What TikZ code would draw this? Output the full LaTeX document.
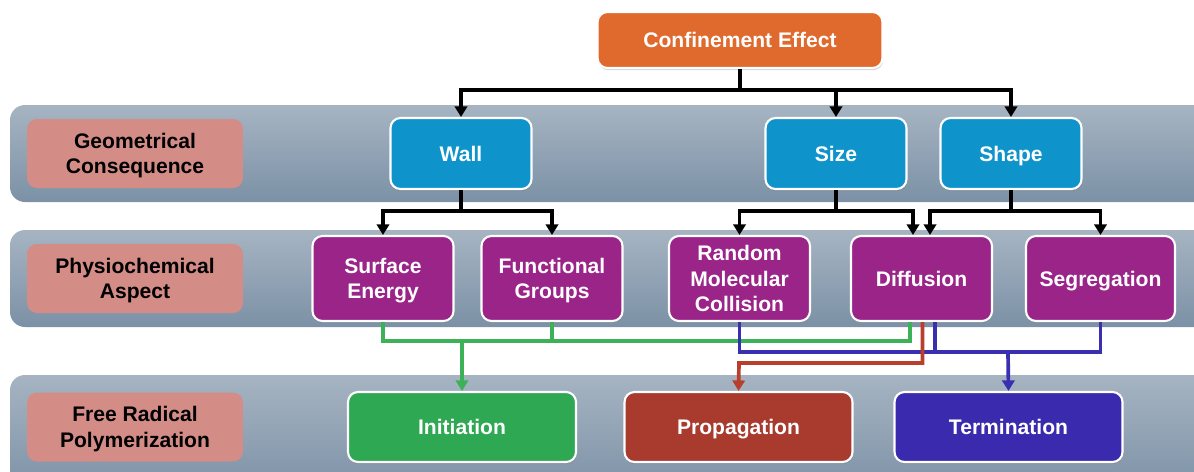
\documentclass[tikz,border=0pt]{standalone}
\usepackage{fontspec}
\setmainfont{Liberation Sans}
\usetikzlibrary{arrows.meta,shadows}

\definecolor{bandtop}{RGB}{166,180,194}
\definecolor{bandbot}{RGB}{124,145,166}
\definecolor{labelpink}{RGB}{212,140,135}
\definecolor{conforange}{RGB}{224,106,46}
\definecolor{geoblue}{RGB}{14,148,203}
\definecolor{physpurple}{RGB}{154,36,136}
\definecolor{initgreen}{RGB}{46,168,82}
\definecolor{propred}{RGB}{168,58,46}
\definecolor{termblue}{RGB}{58,42,174}
\definecolor{greenline}{RGB}{61,177,87}
\definecolor{redline}{RGB}{185,62,46}
\definecolor{blueline}{RGB}{58,47,176}

\tikzset{
  band/.style={rounded corners=0.3cm, top color=bandtop, bottom color=bandbot, draw=none},
  rowlabel/.style={fill=labelpink, rounded corners=0.2cm, minimum width=4.32cm,
    minimum height=1.38cm, align=center, text depth=0pt,
    font=\fontsize{12}{14.4}\selectfont\bfseries},
  box/.style={draw=white, line width=1.2pt, rounded corners=0.2cm, text=white, align=center,
    text depth=0pt, font=\fontsize{12}{14.4}\selectfont\bfseries,
    drop shadow={opacity=0.35, shadow xshift=0.4pt, shadow yshift=-1.2pt}},
  confbox/.style={box, fill=conforange, minimum width=5.7cm, minimum height=1.12cm},
  geobox/.style={box, fill=geoblue, minimum width=2.82cm, minimum height=1.42cm},
  physbox/.style={box, fill=physpurple, minimum width=2.82cm, minimum height=1.7cm},
  frpbox/.style={box, minimum width=4.56cm, minimum height=1.4cm},
  tree/.style={line width=2.1pt, black},
  feed/.style={line width=2.1pt}
}

\begin{document}
\begin{tikzpicture}[x=0.02cm, y=-0.02cm, >={Triangle[length=6pt,width=7pt]}]

  \useasboundingbox (0,0) rectangle (1194,471);

  % bands
  \begin{scope}
    \clip (0,0) rectangle (1194,471);
    \path[band] (10,105) rectangle (1215,202);
    \path[band] (10,230) rectangle (1215,327);
    \path[band] (10,375) rectangle (1215,495);
  \end{scope}

  % row labels
  \node[rowlabel] (lgeo) at (135,153.5) {Geometrical\\Consequence};
  \node[rowlabel] (lphys) at (135,278.5) {Physiochemical\\Aspect};
  \node[rowlabel] (lfrp) at (135,427) {Free Radical\\Polymerization};

  % nodes
  \node[confbox] (conf) at (740,40) {Confinement Effect};

  \node[geobox] (wall) at (461,153.5) {Wall};
  \node[geobox] (size) at (836,153.5) {Size};
  \node[geobox] (shape) at (1011,153.5) {Shape};

  \node[physbox] (surf) at (383,278.5) {Surface\\Energy};
  \node[physbox] (func) at (552,278.5) {Functional\\Groups};
  \node[physbox] (rand) at (739.5,278.5) {Random\\Molecular\\Collision};
  \node[physbox] (diff) at (921.5,278.5) {Diffusion};
  \node[physbox, minimum width=2.98cm] (segr) at (1100.5,278.5) {Segregation};

  \node[frpbox, fill=initgreen] (init) at (462,427) {Initiation};
  \node[frpbox, fill=propred] (prop) at (738.5,427) {Propagation};
  \node[frpbox, fill=termblue] (term) at (1008.5,427) {Termination};

  % forks
  \coordinate (cfork) at (740,90);
  \coordinate (wfork) at (461,211);
  \coordinate (sfork) at (836,211);
  \coordinate (hfork) at (1011,211);
  \coordinate (gfork) at (462,341);
  \coordinate (bfork) at (1008,352);
  \coordinate (rbend) at (739,363);
  \coordinate (dinl) at ([xshift=-0.17cm]diff.north);
  \coordinate (dinr) at ([xshift=0.17cm]diff.north);
  \coordinate (dgreen) at ([xshift=-0.23cm]diff.south);
  \coordinate (dred) at ([xshift=0.02cm]diff.south);
  \coordinate (dblue) at ([xshift=0.27cm]diff.south);

  % black arrows
  \draw[tree] (conf.south) -- (cfork);
  \draw[tree, ->] (cfork) -| (wall.north);
  \draw[tree, ->] (cfork) -| (shape.north);
  \draw[tree, ->] (size.north |- cfork) -- (size.north);

  \draw[tree] (wall.south) -- (wfork);
  \draw[tree, ->] (wfork) -| (surf.north);
  \draw[tree, ->] (wfork) -| (func.north);

  \draw[tree] (size.south) -- (sfork);
  \draw[tree, ->] (sfork) -| (rand.north);
  \draw[tree, ->] (sfork) -| (dinl);

  \draw[tree] (shape.south) -- (hfork);
  \draw[tree, ->] (hfork) -| (dinr);
  \draw[tree, ->] (hfork) -| (segr.north);

  % coloured arrows
  \draw[feed, greenline] (surf.south) |- (gfork) -| (dgreen);
  \draw[feed, greenline] (func.south) -- (func.south |- gfork);
  \draw[feed, greenline, ->] (gfork) -- (init.north);

  \draw[feed, blueline] (rand.south) |- (bfork) -| (segr.south);
  \draw[feed, blueline] (dblue) -- (dblue |- bfork);
  \draw[feed, blueline, ->] (bfork) -- (term.north);

  \draw[feed, redline, ->] (dred) |- (rbend) -- (prop.north);

\end{tikzpicture}
\end{document}
